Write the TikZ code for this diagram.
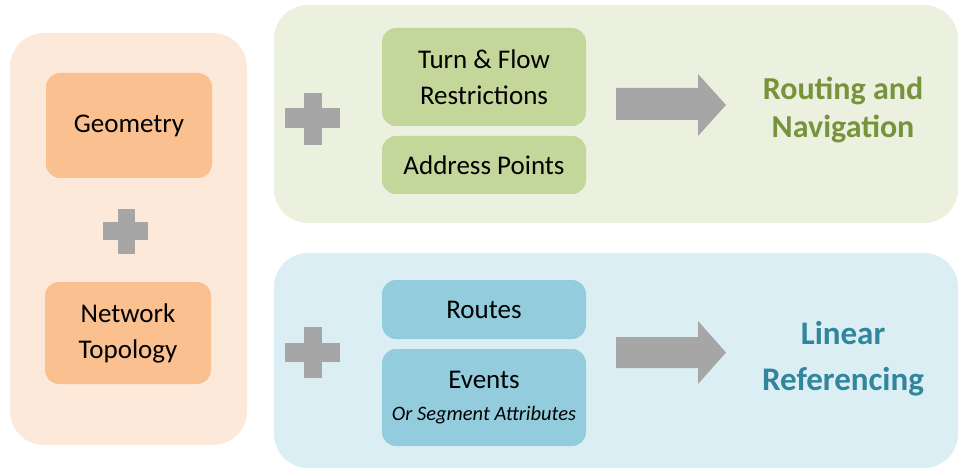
\documentclass[tikz,border=0pt]{standalone}
\usepackage{fontspec}
\setmainfont{Carlito}
\definecolor{peachbg}{HTML}{FDE9D9}
\definecolor{peachbox}{HTML}{FAC090}
\definecolor{greenbg}{HTML}{EBF1DE}
\definecolor{greenbox}{HTML}{C4D79B}
\definecolor{bluebg}{HTML}{DBEEF3}
\definecolor{bluebox}{HTML}{93CDDD}
\definecolor{greentxt}{HTML}{77933C}
\definecolor{bluetxt}{HTML}{31859C}
\definecolor{graysh}{HTML}{A6A6A6}
\tikzset{
  panel/.style={rectangle, rounded corners=34pt, draw=none, inner sep=0pt},
  box/.style={rectangle, rounded corners=14pt, draw=none, inner sep=0pt, align=center,
    font=\fontsize{27}{36}\selectfont},
  title/.style={align=center, inner sep=0pt, font=\bfseries\fontsize{32}{38}\selectfont},
  shapefill/.style={fill=graysh, draw=none}
}
\begin{document}
\begin{tikzpicture}[x=1pt,y=-1pt]
\useasboundingbox (0,0) rectangle (960,470);
% panels
\node[panel, fill=peachbg, minimum width=237pt, minimum height=412pt] (lp) at (128.5,239) {};
\node[panel, fill=greenbg, minimum width=684pt, minimum height=218pt] (gp) at (616,114) {};
\node[panel, fill=bluebg, minimum width=684pt, minimum height=215pt] (bp) at (616,360.5) {};
% left boxes
\node[box, fill=peachbox, minimum width=166pt, minimum height=105pt] (geom) at (129,125.5) {Geometry};
\node[box, fill=peachbox, minimum width=166pt, minimum height=102pt] (topo) at (128,333) {Network\\Topology};
% green boxes
\node[box, fill=greenbox, minimum width=204pt, minimum height=98pt] (turn) at (484,77) {Turn \& Flow\\Restrictions};
\node[box, fill=greenbox, minimum width=204pt, minimum height=58pt] (addr) at (484,165) {Address Points};
% blue boxes
\node[box, fill=bluebox, minimum width=204pt, minimum height=59pt] (routes) at (484,309.5) {Routes};
\node[box, fill=bluebox, minimum width=204pt, minimum height=97pt] (events) at (484,397.5)
  {Events\\[-4pt]{\itshape\fontsize{20.5}{22}\selectfont Or Segment Attributes}};
% titles
\node[title, text=greentxt] (rn) at (843,110) {Routing and\\Navigation};
\node[title, text=bluetxt, font=\bfseries\fontsize{33}{46}\selectfont] (lr) at (843,359) {Linear\\Referencing};
% plus signs
\fill[shapefill] (118,209) rectangle (135,254);
\fill[shapefill] (103,222) rectangle (148,240);
\fill[shapefill] (304,93) rectangle (322,145);
\fill[shapefill] (285,108) rectangle (340,128);
\fill[shapefill] (304,327) rectangle (322,378);
\fill[shapefill] (285,343) rectangle (340,362);
% block arrows
\fill[shapefill] (616,88) -- (698,88) -- (698,74) -- (726,105) -- (698,136) -- (698,120) -- (616,120) -- cycle;
\fill[shapefill] (616,337) -- (698,337) -- (698,321) -- (726,352.5) -- (698,384) -- (698,368) -- (616,368) -- cycle;
\end{tikzpicture}
\end{document}
